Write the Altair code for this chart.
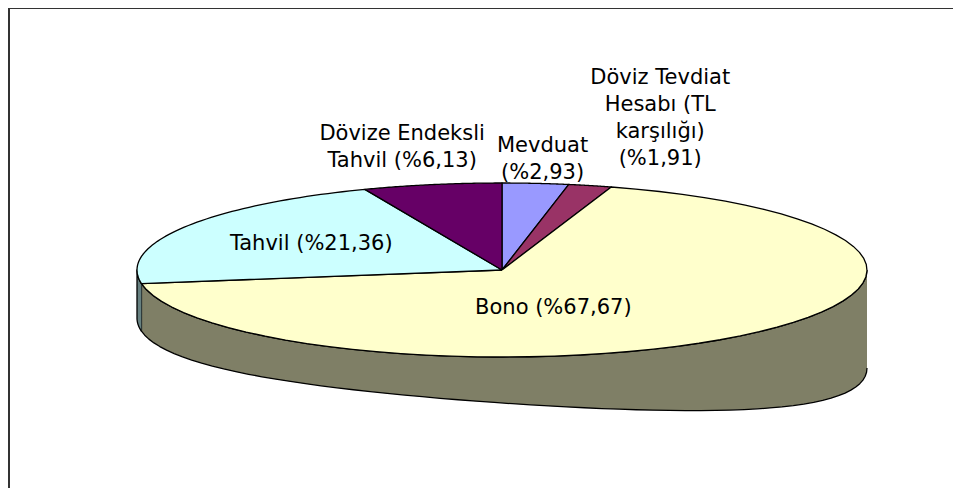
import altair as alt
import pandas as pd

# ---- data ----
categories = ["Mevduat", "Döviz Tevdiat Hesabı (TL karşılığı)", "Bono", "Tahvil", "Dövize Endeksli Tahvil"]
shares = [2.93, 1.91, 67.67, 21.36, 6.13]
labels = [["Mevduat", "(%2,93)"],
          ["Döviz Tevdiat", "Hesabı (TL", "karşılığı)", "(%1,91)"],
          ["Bono (%67,67)"],
          ["Tahvil (%21,36)"],
          ["Dövize Endeksli", "Tahvil (%6,13)"]]

# ---- styles ----
top_colors = ["#9999FF", "#993366", "#FFFFCC", "#CCFFFF", "#660066"]
side_colors = ["#4d4d80", "#4d1a33", "#7f7f66", "#668080", "#330033"]
label_dx = [7, 70, -187, 127, -30]     # label offsets from rim point (px)
label_dy = [-24, -67, -28, 17, -37]    # downward positive (px)

W, H = 945, 480
CX, CY = 494, 262      # pie centre inside the chart (px)
RX, RY = 365, 87       # ellipse semi-axes (px)
D0, D1, D2 = 46, 25, 27  # side depth model
N = 60
LH = 27

df = pd.DataFrame({"cat": categories, "share": shares, "idx": list(range(len(shares))),
                   "top": top_colors, "side": side_colors, "label": labels,
                   "ldx": label_dx, "ldy": label_dy})

xs = alt.Scale(domain=[-CX, W - CX], nice=False, zero=False)
ys = alt.Scale(domain=[-(H - CY), CY], nice=False, zero=False)

base = alt.Chart(df).transform_window(
    cum="sum(share)", sort=[alt.SortField("idx")], frame=[None, 0]
).transform_joinaggregate(total="sum(share)").transform_calculate(
    a0="2*PI*(datum.cum - datum.share)/datum.total",
    a1="2*PI*datum.cum/datum.total",
)

side = base.transform_calculate(
    s0="max(datum.a0, PI/2)", s1="min(datum.a1, 3*PI/2)"
).transform_filter("datum.s1 > datum.s0").transform_calculate(
    k=f"sequence(0, {2 * N + 2})"
).transform_flatten(["k"]).transform_calculate(
    t=f"datum.k <= {N} ? datum.k / {N} : 1 - (datum.k - {N + 1}) / {N}",
).transform_calculate(
    ang="datum.s0 + (datum.s1 - datum.s0) * datum.t",
).transform_calculate(
    px=f"{RX} * sin(datum.ang)",
    py=f"{RY} * cos(datum.ang) - (datum.k > {N} ? ({D0} + {D1}*sin(datum.ang) + {D2}*pow(sin(datum.ang), 2)) : 0)",
).mark_line(stroke="black", strokeWidth=1.3, strokeJoin="round").encode(
    x=alt.X("px:Q", scale=xs, axis=None),
    y=alt.Y("py:Q", scale=ys, axis=None),
    fill=alt.Fill("side:N", scale=None),
    detail="cat:N",
    order="k:Q",
)

top = base.transform_calculate(
    k=f"sequence(-1, {N + 2})"
).transform_flatten(["k"]).transform_calculate(
    ang=f"datum.a0 + (datum.a1 - datum.a0) * clamp(datum.k, 0, {N}) / {N}",
).transform_calculate(
    px=f"(datum.k < 0 || datum.k > {N}) ? 0 : {RX} * sin(datum.ang)",
    py=f"(datum.k < 0 || datum.k > {N}) ? 0 : {RY} * cos(datum.ang)",
).mark_line(stroke="black", strokeWidth=1.3, strokeJoin="round").encode(
    x=alt.X("px:Q", scale=xs, axis=None),
    y=alt.Y("py:Q", scale=ys, axis=None),
    fill=alt.Fill("top:N", scale=None),
    detail="cat:N",
    order="k:Q",
)

text = base.transform_calculate(
    mid="(datum.a0 + datum.a1) / 2",
).transform_calculate(
    lx=f"{RX} * sin(datum.mid) + datum.ldx",
    ly=f"{RY} * cos(datum.mid) - datum.ldy + (length(datum.label) - 1) * {LH / 2}",
).mark_text(font="DejaVu Sans", fontSize=21, lineHeight=LH, align="center",
            baseline="middle", color="black").encode(
    x=alt.X("lx:Q", scale=xs, axis=None),
    y=alt.Y("ly:Q", scale=ys, axis=None),
    text="label",
)

frame_df = pd.DataFrame({"f": [0]})
frame_top = alt.Chart(frame_df).mark_rule(color="#333333", strokeWidth=2).encode(
    x=alt.value(0), x2=alt.value(W), y=alt.value(0))
frame_left = alt.Chart(frame_df).mark_rule(color="#333333", strokeWidth=2).encode(
    x=alt.value(1), y=alt.value(0), y2=alt.value(H))

chart = alt.layer(side, top, text, frame_top, frame_left).properties(
    width=W, height=H, padding=0, autosize="none"
).configure_view(strokeWidth=0)

chart.save("out.html", embed_options={"renderer": "svg", "actions": False})
